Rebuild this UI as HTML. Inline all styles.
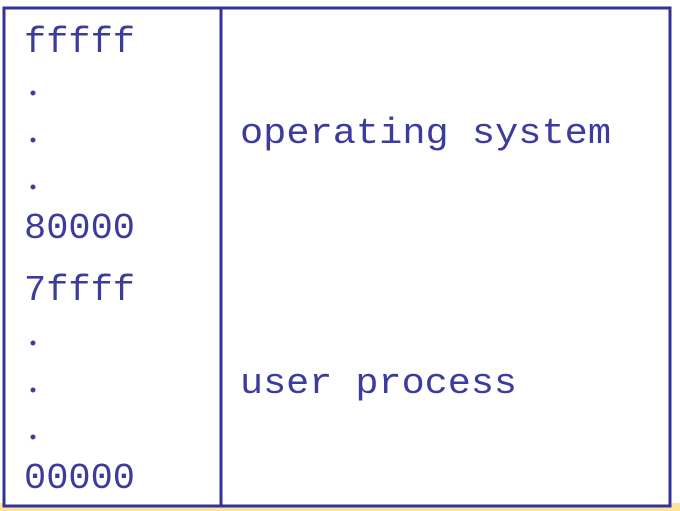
<!DOCTYPE html>
<html><head><style>html,body{margin:0;padding:0;background:#fff;width:680px;height:511px;overflow:hidden}</style></head>
<body>
<svg width="680" height="511" xmlns="http://www.w3.org/2000/svg">
<rect x="0" y="0" width="680" height="511" fill="#fff"/>
<rect x="0" y="503" width="680" height="8" fill="#ffe39a"/>
<rect x="4" y="8" width="666" height="498" fill="#fff" stroke="#333399" stroke-width="3"/>
<line x1="221" y1="8" x2="221" y2="506" stroke="#333399" stroke-width="3"/>
<g font-family="'Liberation Mono', monospace" font-size="36" fill="#3c3c9c">
<text x="24" y="52" textLength="111" lengthAdjust="spacingAndGlyphs">fffff</text>
<circle cx="33" cy="93" r="2.5"/>
<circle cx="33" cy="140" r="2.5"/>
<circle cx="33" cy="187" r="2.5"/>
<text x="24" y="238" textLength="111" lengthAdjust="spacingAndGlyphs">80000</text>
<text x="24" y="300" textLength="111" lengthAdjust="spacingAndGlyphs">7ffff</text>
<circle cx="33" cy="343" r="2.5"/>
<circle cx="33" cy="390" r="2.5"/>
<circle cx="33" cy="437" r="2.5"/>
<text x="24" y="488" textLength="111" lengthAdjust="spacingAndGlyphs">00000</text>
<text x="240" y="143" textLength="371" lengthAdjust="spacingAndGlyphs">operating system</text>
<text x="240" y="393" textLength="277" lengthAdjust="spacingAndGlyphs">user process</text>
</g>
</svg>
</body></html>
